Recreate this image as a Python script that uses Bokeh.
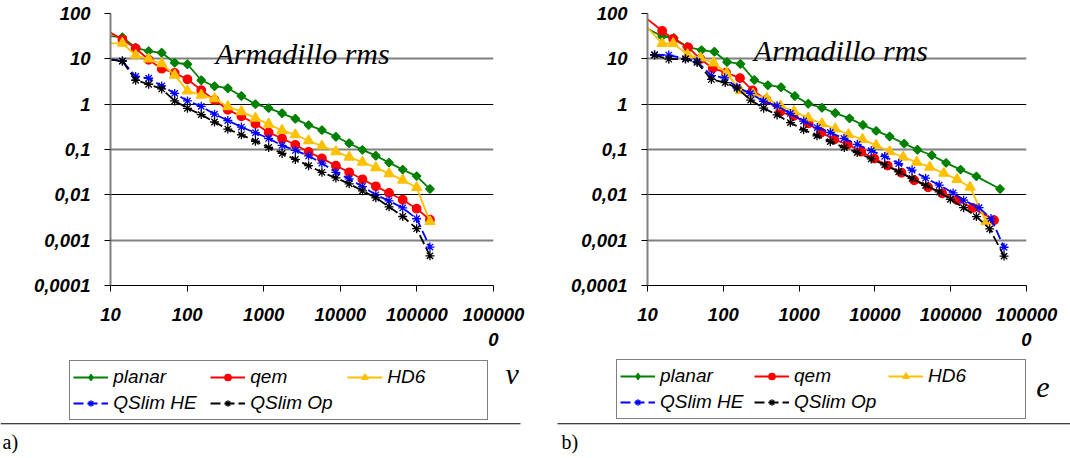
from bokeh.plotting import figure
from bokeh.layouts import row, column
from bokeh.models import (FixedTicker, Grid, Legend, LegendItem, Label, BoxAnnotation,
                          CustomJSTickFormatter, Range1d)
from bokeh.embed import file_html
from bokeh.resources import INLINE

# ---------------- data: chart a) (x = vertices) ----------------
v_x = [9.5, 14.3, 21.3, 31.5, 46.6, 68.8, 101, 153, 228, 340, 512, 780, 1160, 1737, 2588,
       3855, 5757, 8760, 13060, 19460, 29100, 43300, 65300, 99300, 148000]
v_planar = [31.7, 30.1, 17.5, 14.8, 13.6, 8.2, 7.6, 3.37, 2.49, 2.25, 1.52, 1.0, 0.817, 0.628,
            0.475, 0.345, 0.268, 0.191, 0.137, 0.098, 0.073, 0.0513, 0.036, 0.0259, 0.0134]
v_qem = [39.8, 26.6, 17.1, 9.55, 6.06, 4.87, 3.54, 2.04, 1.24, 0.749, 0.540, 0.369, 0.238, 0.175,
         0.127, 0.0881, 0.0637, 0.0440, 0.0314, 0.0220, 0.0154, 0.0110, 0.0078, 0.00495, 0.00282]
v_hd6 = [22.0, 22.0, 12.0, 9.9, 7.8, 4.36, 1.96, 1.58, 1.32, 0.88, 0.684, 0.492, 0.363, 0.263,
         0.211, 0.156, 0.119, 0.0895, 0.0678, 0.0526, 0.0398, 0.0294, 0.0211, 0.0145, 0.00257]
v_qslim_he = [9.75, 8.95, 4.09, 3.73, 2.52, 1.73, 1.18, 0.895, 0.603, 0.436, 0.313, 0.234, 0.175,
              0.123, 0.0955, 0.072, 0.050, 0.0314, 0.0225, 0.0152, 0.0100, 0.00738, 0.00513,
              0.00297, 0.000705]
v_qslim_op = [9.8, 8.95, 3.37, 2.75, 2.17, 1.18, 0.809, 0.588, 0.404, 0.282, 0.211, 0.152, 0.111,
              0.082, 0.0605, 0.044, 0.0314, 0.0236, 0.0175, 0.01225, 0.0086, 0.00545, 0.00333,
              0.00179, 0.000452]

# ---------------- data: chart b) (x = edges) ----------------
e_planar_x = [9.4, 15.6, 22.2, 33.3, 51.5, 76.3, 112, 168, 257, 387, 578, 878, 1321, 2003, 3000,
              4627, 6950, 10400, 15670, 24330, 36400, 56300, 86900, 135000, 218300, 448000]
e_planar = [48.8, 31.5, 28.8, 18.4, 15.6, 14.3, 8.53, 7.71, 3.41, 2.62, 2.37, 1.52, 1.02, 0.834,
            0.636, 0.487, 0.346, 0.257, 0.194, 0.135, 0.0989, 0.0746, 0.0507, 0.0360, 0.0255, 0.0135]
e_qem_x = [9.4, 15.6, 21.8, 34.4, 49.9, 72.5, 109, 166, 244, 370, 560, 847, 1334, 1960, 2910,
           4387, 6596, 9845, 14750, 22400, 33000, 50350, 77100, 121400, 194500, 373000]
e_qem = [80.6, 41.5, 27.5, 17.9, 9.9, 6.21, 4.95, 3.76, 2.01, 1.26, 0.675, 0.546, 0.378, 0.237,
         0.165, 0.130, 0.0895, 0.063, 0.0443, 0.0307, 0.0210, 0.0147, 0.0108, 0.00763, 0.00513, 0.00275]
e_hd6_x = [9.4, 15.6, 21.8, 33.8, 49.9, 74.7, 111, 168, 247, 375, 570, 857, 1321, 2003, 3000,
           4490, 6870, 10400, 15670, 23600, 35730, 53000, 81100, 121400, 180300, 292700]
e_hd6 = [54.7, 21.8, 21.8, 12.4, 10.5, 8.11, 4.79, 2.01, 1.67, 1.34, 0.912, 0.692, 0.499, 0.369,
         0.284, 0.214, 0.167, 0.123, 0.0904, 0.0676, 0.0526, 0.0409, 0.0299, 0.0219, 0.0147, 0.00255]
e_qslim_he_x = [12.4, 19.1, 31.7, 44.9, 69.7, 104, 151, 228, 338, 512, 766, 1146, 1738, 2578, 3906,
                5848, 8935, 13460, 20600, 30900, 46700, 70600, 107600, 148000, 236600, 340500, 505700]
e_qslim_he = [12.3, 12.1, 10.0, 8.83, 4.27, 3.82, 2.37, 1.73, 1.16, 0.920, 0.625, 0.423, 0.305,
              0.237, 0.175, 0.130, 0.0942, 0.0703, 0.0490, 0.0352, 0.0233, 0.0164, 0.0110,
              0.00763, 0.00522, 0.0030, 0.000698]
e_qslim_op_x = [12.4, 19.1, 31.7, 45.2, 69.7, 106, 152, 230, 341, 512, 766, 1146, 1721, 2578, 3945,
                5848, 8935, 13460, 20600, 30900, 46700, 70600, 99000, 148000, 218300, 327000, 505700]
e_qslim_op = [12.1, 9.82, 9.9, 8.32, 3.51, 3.00, 2.25, 1.23, 0.817, 0.580, 0.392, 0.273, 0.200,
              0.149, 0.110, 0.0859, 0.0620, 0.0459, 0.0323, 0.0231, 0.0162, 0.0116, 0.00798,
              0.00521, 0.00331, 0.00177, 0.000445]

series_names = ["planar", "qem", "HD6", "QSlim HE", "QSlim Op"]
x_ticks = [10, 100, 1000, 10000, 100000, 1000000]
x_tick_labels = ["10", "100", "1000", "10000", "100000", "100000\n0"]
y_ticks = [0.0001, 0.001, 0.01, 0.1, 1, 10, 100]
y_tick_labels = ["0,0001", "0,001", "0,01", "0,1", "1", "10", "100"]
title_text = "Armadillo rms"

# styles (not data)
STYLES = {
    "planar":   dict(color="#008000", marker="square", size=6, angle=0.7854, dash="solid",
                     legend_marker="diamond", legend_size=8),
    "qem":      dict(color="#FF0000", marker="circle", size=8.5, angle=0, dash="solid",
                     legend_marker="circle", legend_size=8.5),
    "HD6":      dict(color="#FFC000", marker="triangle", size=10, angle=0, dash="solid",
                     legend_marker="triangle", legend_size=10),
    "QSlim HE": dict(color="#0000FF", marker="asterisk", size=9, angle=0, dash="10 4",
                     legend_marker="asterisk", legend_size=9),
    "QSlim Op": dict(color="#000000", marker="asterisk", size=9, angle=0, dash="10 4",
                     legend_marker="asterisk", legend_size=9),
}

SANS = "Liberation Sans"
SERIF = "Liberation Serif"
TOP_H = 356
BOT_H = 100
NAN = float("nan")


def tick_formatter(vals, labs):
    return CustomJSTickFormatter(args=dict(vals=vals, labs=labs), code="""
        for (let i = 0; i < vals.length; i++) {
            if (Math.abs(Math.log10(tick) - Math.log10(vals[i])) < 1e-6) return labs[i];
        }
        return "";
    """)


def make_chart(width, mb_left, mb_right, mb_top, frame_bottom, data, title_pos):
    p = figure(width=width, height=TOP_H, x_axis_type="log", y_axis_type="log",
               x_range=Range1d(10, 1000000), y_range=Range1d(0.0001, 100),
               output_backend="svg", toolbar_location=None,
               min_border_left=mb_left, min_border_right=mb_right,
               min_border_top=mb_top, min_border_bottom=TOP_H - frame_bottom)
    p.outline_line_color = None
    p.background_fill_color = "white"
    p.border_fill_color = "white"
    p.xgrid.visible = False
    p.ygrid.visible = False

    for ax in (p.xaxis[0], p.yaxis[0]):
        ax.major_label_text_font = SANS
        ax.major_label_text_font_style = "bold italic"
        ax.major_label_text_font_size = "18.5px"
        ax.major_label_text_color = "black"
        ax.minor_tick_line_color = None
        ax.major_tick_in = 0
        ax.major_tick_out = 6
        ax.major_tick_line_color = "black"
    p.xaxis[0].ticker = FixedTicker(ticks=x_ticks)
    p.xaxis[0].formatter = tick_formatter(x_ticks, x_tick_labels)
    p.xaxis[0].axis_line_color = "black"
    p.xaxis[0].major_label_standoff = 12
    p.yaxis[0].ticker = FixedTicker(ticks=y_ticks)
    p.yaxis[0].formatter = tick_formatter(y_ticks, y_tick_labels)
    p.yaxis[0].axis_line_color = "#808080"
    p.yaxis[0].axis_line_width = 2
    p.yaxis[0].major_label_standoff = 14

    p.add_layout(Grid(dimension=1, ticker=FixedTicker(ticks=[100, 1, 0.01]),
                      grid_line_color="black", grid_line_width=1))
    p.add_layout(Grid(dimension=1, ticker=FixedTicker(ticks=[10, 0.1, 0.001]),
                      grid_line_color="#808080", grid_line_width=2))

    for name, (xs, ys) in zip(series_names, data):
        st = STYLES[name]
        p.line(xs, ys, line_color=st["color"], line_width=1.8, line_dash=st["dash"])
        mx = [a for a, b in zip(xs, ys) if a >= 10]
        my = [b for a, b in zip(xs, ys) if a >= 10]
        p.scatter(mx, my, marker=st["marker"], size=st["size"], angle=st["angle"],
                  fill_color=st["color"], line_color=st["color"], line_width=1.3)

    p.add_layout(Label(x=title_pos[0], y=title_pos[1], x_units="screen", y_units="screen",
                       text=title_text, text_font=SERIF, text_font_style="italic",
                       text_font_size="30px", text_color="black", text_baseline="alphabetic"))
    return p


def make_bottom(width, legend_loc, label_width, letter, letter_pos, sep, tag, tag_pos):
    # a plain panel whose units equal pixels (y measured up from its bottom edge)
    p = figure(width=width, height=BOT_H, x_range=Range1d(0, width), y_range=Range1d(0, BOT_H),
               output_backend="svg", toolbar_location=None,
               x_axis_location=None, y_axis_location=None,
               min_border_left=0, min_border_right=0, min_border_top=0, min_border_bottom=0)
    p.outline_line_color = None
    p.xgrid.visible = False
    p.ygrid.visible = False
    p.background_fill_color = "white"
    p.border_fill_color = "white"

    items = []
    for name in series_names:
        st = STYLES[name]
        # legend proxies: one undefined point each, so nothing is drawn in the panel itself
        lr = p.line([NAN], [NAN], line_color=st["color"], line_width=1.8, line_dash=st["dash"])
        sr = p.scatter([NAN], [NAN], marker=st["legend_marker"], size=st["legend_size"],
                       fill_color=st["color"], line_color=st["color"], line_width=1.3)
        items.append(LegendItem(label=name, renderers=[lr, sr]))

    legend = Legend(items=items, location=legend_loc, orientation="horizontal", ncols=3,
                    glyph_width=35, glyph_height=16, label_height=26, label_width=label_width,
                    label_standoff=5, spacing=0, padding=3, margin=0,
                    label_text_font=SANS, label_text_font_style="italic",
                    label_text_font_size="19px", label_text_color="black",
                    border_line_color="black", border_line_width=1,
                    background_fill_color="white", background_fill_alpha=1)
    p.add_layout(legend)

    p.add_layout(Label(x=letter_pos[0], y=letter_pos[1], text=letter, text_font=SERIF,
                       text_font_style="italic", text_font_size="30px", text_color="black",
                       text_baseline="alphabetic"))
    p.add_layout(BoxAnnotation(left=sep[0], right=sep[1], top=sep[2] + 0.5, bottom=sep[2] - 0.5,
                               fill_color="black", fill_alpha=1, line_color=None))
    p.add_layout(Label(x=tag_pos[0], y=tag_pos[1], text=tag, text_font=SERIF,
                       text_font_size="20px", text_color="black", text_baseline="alphabetic"))
    return p


left = make_chart(540, 110, 47, 12, 285,
                  [(v_x, v_planar), (v_x, v_qem), (v_x, v_hd6), (v_x, v_qslim_he), (v_x, v_qslim_op)],
                  (105, 231.7))
right = make_chart(530, 107, 44, 13, 288,
                   [(e_planar_x, e_planar), (e_qem_x, e_qem), (e_hd6_x, e_hd6),
                    (e_qslim_he_x, e_qslim_he), (e_qslim_op_x, e_qslim_op)],
                   (106.3, 234.7))

# bottom panels start at page y = TOP_H; panel y = (TOP_H + BOT_H) - page_y
bot_left = make_bottom(540, (69.3, 36), 97, "v", (505, 83), (0, 520, 32.7), "a)", (2, 15))
bot_right = make_bottom(530, (76, 36.7), 94, "e", (495.7, 68.7), (17, 530, 32.7), "b)", (21, 15))

layout = column(row(left, right), row(bot_left, bot_right))
open("out.html", "w").write(file_html(layout, INLINE))
